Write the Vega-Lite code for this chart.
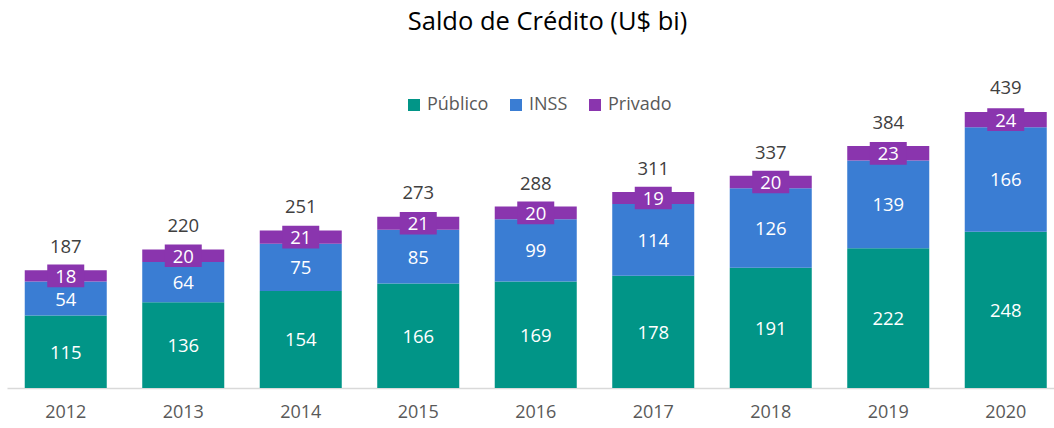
{
  "$schema": "https://vega.github.io/schema/vega-lite/v6.json",
  "autosize": {"type": "none"},
  "width": 1047,
  "height": 315,
  "padding": {"left": 7, "top": 73, "right": 0, "bottom": 40},
  "title": {
    "text": "Saldo de Crédito (U$ bi)",
    "font": "Open Sans",
    "fontSize": 25.5,
    "fontWeight": "normal",
    "color": "#000000",
    "anchor": "middle",
    "frame": "group",
    "baseline": "alphabetic",
    "offset": 18,
    "dx": 17
  },
  "data": {
    "values": [
      {"ano": "2012", "serie": "Público", "ordem": 1, "valor": 115, "total": 187},
      {"ano": "2012", "serie": "INSS", "ordem": 2, "valor": 54, "total": 187},
      {"ano": "2012", "serie": "Privado", "ordem": 3, "valor": 18, "total": 187},
      {"ano": "2013", "serie": "Público", "ordem": 1, "valor": 136, "total": 220},
      {"ano": "2013", "serie": "INSS", "ordem": 2, "valor": 64, "total": 220},
      {"ano": "2013", "serie": "Privado", "ordem": 3, "valor": 20, "total": 220},
      {"ano": "2014", "serie": "Público", "ordem": 1, "valor": 154, "total": 251},
      {"ano": "2014", "serie": "INSS", "ordem": 2, "valor": 75, "total": 251},
      {"ano": "2014", "serie": "Privado", "ordem": 3, "valor": 21, "total": 251},
      {"ano": "2015", "serie": "Público", "ordem": 1, "valor": 166, "total": 273},
      {"ano": "2015", "serie": "INSS", "ordem": 2, "valor": 85, "total": 273},
      {"ano": "2015", "serie": "Privado", "ordem": 3, "valor": 21, "total": 273},
      {"ano": "2016", "serie": "Público", "ordem": 1, "valor": 169, "total": 288},
      {"ano": "2016", "serie": "INSS", "ordem": 2, "valor": 99, "total": 288},
      {"ano": "2016", "serie": "Privado", "ordem": 3, "valor": 20, "total": 288},
      {"ano": "2017", "serie": "Público", "ordem": 1, "valor": 178, "total": 311},
      {"ano": "2017", "serie": "INSS", "ordem": 2, "valor": 114, "total": 311},
      {"ano": "2017", "serie": "Privado", "ordem": 3, "valor": 19, "total": 311},
      {"ano": "2018", "serie": "Público", "ordem": 1, "valor": 191, "total": 337},
      {"ano": "2018", "serie": "INSS", "ordem": 2, "valor": 126, "total": 337},
      {"ano": "2018", "serie": "Privado", "ordem": 3, "valor": 20, "total": 337},
      {"ano": "2019", "serie": "Público", "ordem": 1, "valor": 222, "total": 384},
      {"ano": "2019", "serie": "INSS", "ordem": 2, "valor": 139, "total": 384},
      {"ano": "2019", "serie": "Privado", "ordem": 3, "valor": 23, "total": 384},
      {"ano": "2020", "serie": "Público", "ordem": 1, "valor": 248, "total": 439},
      {"ano": "2020", "serie": "INSS", "ordem": 2, "valor": 166, "total": 439},
      {"ano": "2020", "serie": "Privado", "ordem": 3, "valor": 24, "total": 439}
    ]
  },
  "transform": [
    {"stack": "valor", "groupby": ["ano"], "sort": [{"field": "ordem", "order": "ascending"}], "as": ["y0", "y1"]}
  ],
  "encoding": {
    "x": {
      "field": "ano",
      "type": "ordinal",
      "scale": {"range": [0, 1057.5], "paddingInner": 0.302, "paddingOuter": 0.151},
      "axis": {
        "title": null,
        "ticks": false,
        "tickSize": 0,
        "domainColor": "#d9d9d9",
        "domainWidth": 1.5,
        "labelAngle": 0,
        "labelFont": "Open Sans",
        "labelFontSize": 18,
        "labelColor": "#595959",
        "labelBaseline": "middle",
        "labelPadding": 24,
        "grid": false
      }
    }
  },
  "layer": [
    {
      "mark": {"type": "bar"},
      "encoding": {
        "y": {"field": "y1", "type": "quantitative", "scale": {"domain": [0, 500]}, "axis": null},
        "y2": {"field": "y0"},
        "color": {
          "field": "serie",
          "type": "nominal",
          "scale": {"domain": ["Público", "INSS", "Privado"], "range": ["#019587", "#3a7dd3", "#8a35ae"]},
          "legend": {
            "title": null,
            "orient": "none",
            "legendX": 398,
            "legendY": 23,
            "direction": "horizontal",
            "symbolType": "square",
            "symbolSize": 144,
            "symbolStrokeWidth": 0,
            "labelFont": "Open Sans",
            "labelFontSize": 18,
            "labelColor": "#595959",
            "labelOffset": 4,
            "columnPadding": 18
          }
        }
      }
    },
    {
      "transform": [
        {"filter": "datum.serie == 'Privado'"},
        {"fold": ["y0", "y1"], "as": ["k", "pos"]}
      ],
      "mark": {"type": "point", "filled": true, "opacity": 1, "color": "#8a35ae", "shape": "M-1,-0.611H1V0.611H-1Z", "size": 1369, "strokeWidth": 0},
      "encoding": {
        "y": {"aggregate": "mean", "field": "pos", "type": "quantitative"}
      }
    },
    {
      "transform": [
        {"fold": ["y0", "y1"], "as": ["k", "pos"]}
      ],
      "mark": {"type": "text", "color": "#ffffff", "font": "Open Sans", "fontSize": 18.5, "baseline": "middle", "dy": 1},
      "encoding": {
        "y": {"aggregate": "mean", "field": "pos", "type": "quantitative"},
        "text": {"field": "valor", "type": "quantitative"},
        "detail": {"field": "serie"}
      }
    },
    {
      "transform": [
        {"filter": "datum.serie == 'Privado'"}
      ],
      "mark": {"type": "text", "color": "#404040", "font": "Open Sans", "fontSize": 18.5, "baseline": "middle", "dy": -23},
      "encoding": {
        "y": {"field": "total", "type": "quantitative"},
        "text": {"field": "total", "type": "quantitative"}
      }
    }
  ],
  "config": {
    "view": {"stroke": null},
    "font": "Open Sans"
  }
}
